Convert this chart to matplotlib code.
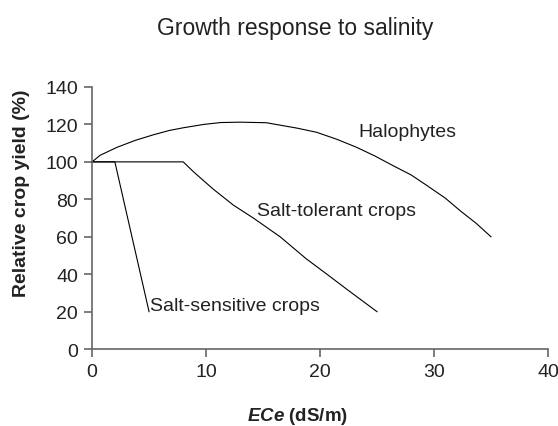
import matplotlib.pyplot as plt

plt.rcParams['font.family'] = ['Liberation Sans', 'DejaVu Sans']
plt.rcParams['mathtext.fontset'] = 'custom'
plt.rcParams['mathtext.bfit'] = 'Liberation Sans:italic:bold'

# Halophytes: rise above 100 % at moderate salinity, then decline
halo_x = [0, 0.7, 2.2, 3.8, 5.4, 6.8, 8.0, 9.8, 11.3, 13.0, 15.3, 16.5,
          18.0, 19.7, 21.5, 23.2, 24.8, 26.4, 28.0, 29.4, 31.0, 32.3, 33.7, 35.0]
halo_y = [100, 103.5, 107.8, 111.5, 114.5, 116.8, 118.2, 120, 121, 121.2, 120.9, 119.6,
          118.0, 115.8, 112.0, 107.8, 103.2, 98, 93.0, 87.3, 80.6, 73.9, 67.2, 60]

# Salt-tolerant crops: threshold near 8 dS/m
tol_x = [0, 8.0, 8.9, 10.6, 12.4, 14.2, 16.5, 18.8, 20.5, 22.3, 25.0]
tol_y = [100, 100, 94.7, 85.6, 76.9, 69.8, 60, 48.2, 40.5, 32.2, 20]

# Salt-sensitive crops: threshold near 2 dS/m
sens_x = [0, 2.0, 3.0, 5.0]
sens_y = [100, 100, 73.3, 20]

x_ticks = [0, 10, 20, 30, 40]
y_ticks = [0, 20, 40, 60, 80, 100, 120, 140]

fig = plt.figure(figsize=(5.58, 4.27), dpi=100)
ax = fig.add_axes([0.165, 0.180, 0.817, 0.614])

for xs, ys in [(halo_x, halo_y), (tol_x, tol_y), (sens_x, sens_y)]:
    ax.plot(xs, ys, color='black', linewidth=0.8, clip_on=False)

ax.text(27.7, 116, 'Halophytes', fontsize=14, color='#222222', ha='center', va='center')
ax.text(14.45, 74, 'Salt-tolerant crops', fontsize=14, color='#222222', ha='left', va='center')
ax.text(5.1, 23.5, 'Salt-sensitive crops', fontsize=14, color='#222222', ha='left', va='center')

ax.set_xlim(0, 40)
ax.set_ylim(0, 140)
ax.set_xticks(x_ticks)
ax.set_yticks(y_ticks)
ax.tick_params(labelsize=14, colors='#666666', labelcolor='#222222',
               length=6, width=1.2, direction='out', pad=4)
for side in ['top', 'right']:
    ax.spines[side].set_visible(False)
for side in ['left', 'bottom']:
    ax.spines[side].set_color('#666666')
    ax.spines[side].set_linewidth(1.2)

fig.text(22 / 558, 1 - 193 / 427, 'Relative crop yield (%)', fontsize=14, fontweight='bold',
         color='#222222', rotation=90, ha='center', va='center')
fig.text(298 / 558, 1 - 421 / 427, r'$\mathbfit{ECe}$ (dS/m)', fontsize=13.5,
         fontweight='bold', color='#222222', ha='center', va='baseline')
fig.text(295 / 558, 1 - 35 / 427, 'Growth response to salinity',
         fontsize=16.5, color='#222222', ha='center', va='baseline')

fig.savefig('out.png', dpi=100)
